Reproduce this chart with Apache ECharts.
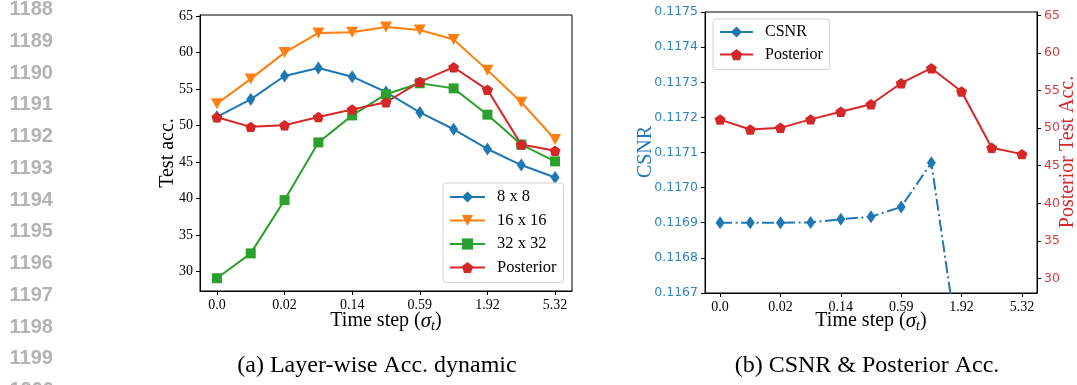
<!DOCTYPE html>
<html>
<head>
<meta charset="utf-8">
<script src="https://cdn.jsdelivr.net/npm/echarts@6/dist/echarts.min.js"></script>
<style>
  html, body { margin: 0; padding: 0; background: #fff; }
  #chart { width: 1077px; height: 385px; }
</style>
</head>
<body>
<div id="chart"></div>
<script>
// ---- data ----
const stepIndex = [0, 1, 2, 3, 4, 5, 6, 7, 8, 9, 10];
const stepTickLabels = ['0.0', '0.02', '0.14', '0.59', '1.92', '5.32'];

const acc8 = [51.2, 53.6, 56.8, 57.9, 56.7, 54.6, 51.8, 49.5, 46.8, 44.6, 42.9];
const acc16 = [53.0, 56.4, 60.0, 62.7, 62.8, 63.5, 63.1, 61.8, 57.6, 53.2, 48.1];
const acc32 = [29.1, 32.5, 39.8, 47.7, 51.4, 54.3, 55.8, 55.1, 51.5, 47.4, 45.1];
const accPosterior = [51.15, 49.83, 50.05, 51.18, 52.2, 53.2, 56.0, 58.0, 54.9, 47.4, 46.55];
const csnr = [0.11690, 0.11690, 0.11690, 0.116901, 0.11691, 0.116917, 0.116945, 0.117071, 0.11648, null, null];

const accTicks = [30, 35, 40, 45, 50, 55, 60, 65];
const csnrTicks = [0.1167, 0.1168, 0.1169, 0.1170, 0.1171, 0.1172, 0.1173, 0.1174, 0.1175];
const lineNumbers = ['1188', '1189', '1190', '1191', '1192', '1193', '1194', '1195', '1196', '1197', '1198', '1199', '1200'];

// ---- styling helpers ----
const SERIF = '"Liberation Serif", "Times New Roman", serif';
const SANS = '"DejaVu Sans", sans-serif';
const C_BLUE = '#1f77b4', C_ORANGE = '#ff7f0e', C_GREEN = '#2ca02c', C_RED = '#d62728';
const PENTAGON = 'path://M50,0 L97.55,34.55 L79.39,90.45 L20.61,90.45 L2.45,34.55 Z';

function stepAxis(gridIndex) {
  return {
    type: 'category', gridIndex, data: stepIndex, boundaryGap: true,
    axisLine: { show: true, lineStyle: { color: '#000', width: 1 } },
    axisTick: { show: true, interval: 1, alignWithLabel: true, length: 4, lineStyle: { color: '#000', width: 1 } },
    axisLabel: {
      interval: 1, margin: 7, color: '#000', fontFamily: SERIF, fontSize: 14,
      formatter: (v, i) => stepTickLabels[i / 2]
    },
    splitLine: { show: false }
  };
}

function valueAxis(opts) {
  return Object.assign({
    type: 'value',
    axisLine: { show: true, lineStyle: { color: '#000', width: 1 } },
    splitLine: { show: false }
  }, opts);
}

function lineSeries(name, data, color, symbol, symbolSize, xi, yi, extra) {
  return Object.assign({
    name, type: 'line', data, xAxisIndex: xi, yAxisIndex: yi,
    symbol, symbolSize, symbolKeepAspect: false,
    showAllSymbol: true,
    lineStyle: { color, width: 2 },
    itemStyle: { color, borderWidth: 0 },
    emphasis: { disabled: true },
    clip: true
  }, extra || {});
}

const titleRich = {
  n: { fontFamily: SERIF, fontSize: 20, color: '#000' },
  m: { fontFamily: SERIF, fontSize: 21, fontStyle: 'italic', color: '#000' },
  s: { fontFamily: SERIF, fontSize: 14, fontStyle: 'italic', color: '#000', padding: [10, 0, 0, 0] }
};
const stepTitle = '{n|Time step (}{m|σ}{s|t}{n|)}';

const graphics = [];
lineNumbers.forEach((t, i) => {
  graphics.push({
    type: 'text', x: 9.5, y: 9.5 + i * 31.75,
    style: { text: t, font: 'bold 20px "Liberation Sans", Arial, sans-serif', fill: '#b3b3b3', align: 'left', verticalAlign: 'middle' }
  });
});
graphics.push(
  { type: 'text', x: 168, y: 153, rotation: Math.PI / 2,
    style: { text: 'Test acc.', font: '20px ' + SERIF, fill: '#000', align: 'center', verticalAlign: 'middle' } },
  { type: 'text', x: 386, y: 321,
    style: { text: stepTitle, rich: titleRich, align: 'center', verticalAlign: 'middle' } },
  { type: 'text', x: 646, y: 152, rotation: Math.PI / 2,
    style: { text: 'CSNR', font: '20px ' + SERIF, fill: C_BLUE, align: 'center', verticalAlign: 'middle' } },
  { type: 'text', x: 1068, y: 152, rotation: Math.PI / 2,
    style: { text: 'Posterior Test Acc.', font: '20px ' + SERIF, fill: C_RED, align: 'center', verticalAlign: 'middle' } },
  { type: 'text', x: 871, y: 321,
    style: { text: stepTitle, rich: titleRich, align: 'center', verticalAlign: 'middle' } },
  { type: 'text', x: 377, y: 366,
    style: { text: '(a) Layer-wise Acc. dynamic', font: '24px ' + SERIF, fill: '#000', align: 'center', verticalAlign: 'middle' } },
  { type: 'text', x: 867, y: 366,
    style: { text: '(b) CSNR & Posterior Acc.', font: '24px ' + SERIF, fill: '#000', align: 'center', verticalAlign: 'middle' } }
);

const legendBase = {
  orient: 'vertical', itemWidth: 35, itemHeight: 14,
  backgroundColor: 'rgba(255,255,255,0.8)', borderColor: '#d0d0d0', borderWidth: 1, borderRadius: 3,
  selectedMode: false
};

const option = {
  animation: false,
  backgroundColor: '#fff',
  grid: [
    { left: 200, top: 15, width: 372, height: 276, show: true, borderColor: '#000', borderWidth: 1, backgroundColor: 'transparent' },
    { left: 705, top: 12, width: 332, height: 281, show: true, borderColor: '#000', borderWidth: 1, backgroundColor: 'transparent' }
  ],
  xAxis: [stepAxis(0), stepAxis(1)],
  yAxis: [
    valueAxis({
      gridIndex: 0, min: 27.35, max: 65.15,
      axisTick: { show: true, length: 4, customValues: accTicks, lineStyle: { color: '#000' } },
      axisLabel: { customValues: accTicks, margin: 7, color: '#000', fontFamily: SERIF, fontSize: 14 }
    }),
    valueAxis({
      gridIndex: 1, min: 0.1167, max: 0.1175, position: 'left',
      axisTick: { show: true, length: 4, customValues: csnrTicks, lineStyle: { color: '#000' } },
      axisLabel: { customValues: csnrTicks, margin: 7, color: '#2f84c0', fontFamily: SANS, fontSize: 12.5,
        formatter: v => v.toFixed(4) }
    }),
    valueAxis({
      gridIndex: 1, min: 28.04, max: 65.49, position: 'right',
      axisTick: { show: true, length: 4, customValues: accTicks, lineStyle: { color: '#000' } },
      axisLabel: { customValues: accTicks, margin: 7, color: '#d93a3a', fontFamily: SANS, fontSize: 12.5 }
    })
  ],
  legend: [
    Object.assign({}, legendBase, {
      left: 443, top: 183, padding: [5, 7, 6, 6], itemGap: 5.5,
      data: ['8 x 8', '16 x 16', '32 x 32', 'Posterior'],
      textStyle: { fontFamily: SERIF, fontSize: 16.5, color: '#000', lineHeight: 18, padding: [0, 0, 0, 7] }
    }),
    Object.assign({}, legendBase, {
      left: 713, top: 19, padding: [4, 7, 6, 6], itemGap: 4.6, itemWidth: 33,
      data: ['CSNR', 'Posterior'],
      textStyle: { fontFamily: SERIF, fontSize: 16, color: '#000', lineHeight: 18, padding: [0, 0, 0, 7] }
    })
  ],
  series: [
    lineSeries('8 x 8', acc8, C_BLUE, 'diamond', [9, 13], 0, 0),
    lineSeries('16 x 16', acc16, C_ORANGE, 'triangle', [12, 11], 0, 0, { symbolRotate: 180 }),
    lineSeries('32 x 32', acc32, C_GREEN, 'rect', 10, 0, 0),
    lineSeries('Posterior', accPosterior, C_RED, PENTAGON, 11, 0, 0, { symbolKeepAspect: true }),
    lineSeries('CSNR', csnr, C_BLUE, 'diamond', [9, 13], 1, 1, {
      lineStyle: { color: C_BLUE, width: 2, type: [12, 3.5, 2, 3.5] }
    }),
    lineSeries('Posterior', accPosterior, C_RED, PENTAGON, 11, 1, 2, { symbolKeepAspect: true })
  ],
  graphic: graphics
};

const chart = echarts.init(document.getElementById('chart'), null, { renderer: 'canvas' });
chart.setOption(option);
</script>
</body>
</html>
